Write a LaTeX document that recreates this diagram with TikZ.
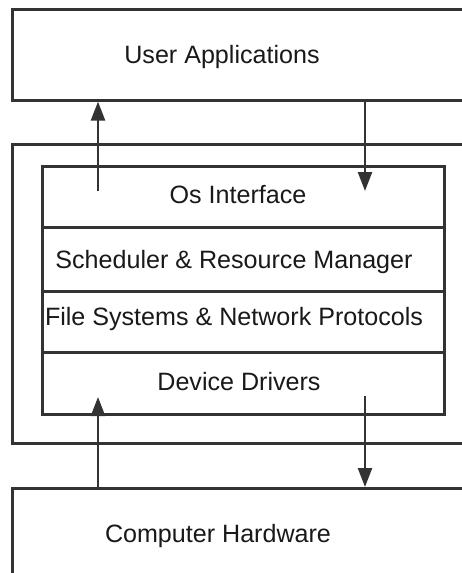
\documentclass[tikz,border=0pt]{standalone}
\usepackage{fontspec}
\setmainfont{Liberation Sans}
\usetikzlibrary{arrows.meta,positioning}
\definecolor{ink}{HTML}{333333}
\tikzset{
  layer/.style={draw=ink, line width=2.6pt, rectangle, inner sep=0pt, anchor=north west},
  row/.style={inner sep=0pt, anchor=base, text=black!90, font=\fontsize{25.1}{29}\selectfont},
  arr/.style={draw=ink, line width=2.4pt, -{Triangle[length=19pt,width=14pt]}}
}
\begin{document}
\begin{tikzpicture}[x=1pt,y=-1pt]
\useasboundingbox (0,0) rectangle (462,573);
\fill[white] (0,0) rectangle (462,573);
\clip (0,0) rectangle (462,573);
% outer layers, running off the right edge
\node[layer, minimum width=480pt, minimum height=91pt] (apps) at (11,8) {};
\node[layer, minimum width=480pt, minimum height=299pt] (os) at (11,143) {};
\node[layer, minimum width=480pt, minimum height=120pt] (hw) at (11,487) {};
% kernel stack
\node[layer, minimum width=402pt, minimum height=61pt] (osi) at (41,165) {};
\node[layer, minimum width=402pt, minimum height=64pt] (sched) at (41,226) {};
\node[layer, minimum width=402pt, minimum height=61pt] (fs) at (41,290) {};
\node[layer, minimum width=402pt, minimum height=62pt] (dd) at (41,351) {};
% labels, placed by baseline
\node[row] at (222,63) {User Applications};
\node[row] at (238,203) {Os Interface};
\node[row] at (234,268) {Scheduler \& Resource Manager};
\node[row] at (234,325) {File Systems \& Network Protocols};
\node[row] at (239,390) {Device Drivers};
\node[row] at (218,542) {Computer Hardware};
% data flow
\coordinate (upA) at (98,191);
\coordinate (dnA) at (365,396);
\draw[arr] (upA) -- (upA |- apps.south);
\draw[arr] (apps.south -| dnA) -- (365,191);
\draw[arr] (hw.north -| upA) -- (98,397);
\draw[arr] (dnA) -- (dnA |- hw.north);
\end{tikzpicture}
\end{document}
